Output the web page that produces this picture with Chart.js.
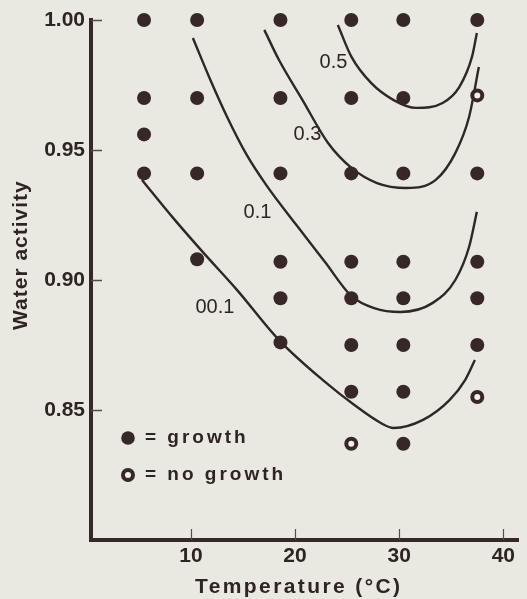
<!DOCTYPE html>
<html>
<head>
<meta charset="utf-8">
<script src="https://cdn.jsdelivr.net/npm/chart.js@4.4.0/dist/chart.umd.min.js"></script>
<style>
  html, body { margin: 0; padding: 0; background: #eae9e1; }
  #chart { display: block; }
</style>
</head>
<body>
<canvas id="chart" width="527" height="599"></canvas>
<script>
// observations: growth (filled dots)
const growthTemp = [
  5.5, 5.5, 5.5, 5.5,
  10.6, 10.6, 10.6, 10.6,
  18.6, 18.6, 18.6, 18.6, 18.6, 18.6,
  25.4, 25.4, 25.4, 25.4, 25.4, 25.4, 25.4,
  30.4, 30.4, 30.4, 30.4, 30.4, 30.4, 30.4, 30.4,
  37.5, 37.5, 37.5, 37.5, 37.5
];
const growthAw = [
  1.000, 0.970, 0.956, 0.941,
  1.000, 0.970, 0.941, 0.908,
  1.000, 0.970, 0.941, 0.907, 0.893, 0.876,
  1.000, 0.970, 0.941, 0.907, 0.893, 0.875, 0.857,
  1.000, 0.970, 0.941, 0.907, 0.893, 0.875, 0.857, 0.837,
  1.000, 0.941, 0.907, 0.893, 0.875
];
// observations: no growth (open dots)
const noGrowthTemp = [37.5, 37.5, 25.4];
const noGrowthAw = [0.971, 0.855, 0.837];

// probability contours
const curve05Temp = [24.11, 25.42, 27.30, 29.47, 31.63, 34.17, 35.77, 36.99, 37.46];
const curve05Aw = [0.9981, 0.9858, 0.9758, 0.9692, 0.9662, 0.9681, 0.9742, 0.9858, 0.9950];

const curve03Temp = [17.05, 18.46, 20.72, 23.17, 25.42, 27.87, 30.69, 33.51, 35.39, 36.71, 37.65];
const curve03Aw = [0.9962, 0.9846, 0.9692, 0.9527, 0.9431, 0.9373, 0.9354, 0.9385, 0.9488, 0.9627, 0.9819];

const curve01Temp = [10.19, 11.79, 13.48, 15.36, 17.24, 20.06, 22.88, 25.42, 27.59, 30.13, 33.23, 35.39, 36.71, 37.46];
const curve01Aw = [0.9931, 0.9777, 0.9627, 0.9481, 0.9365, 0.9215, 0.9069, 0.8938, 0.8892, 0.8877, 0.8912, 0.9000, 0.9127, 0.9262];

const curve001Temp = [5.30, 8.31, 11.13, 14.42, 18.46, 22.88, 25.70, 28.24, 29.46, 32.29, 34.83, 36.33, 37.27];
const curve001Aw = [0.9385, 0.9238, 0.9108, 0.8962, 0.8769, 0.8608, 0.8519, 0.8450, 0.8431, 0.8462, 0.8538, 0.8615, 0.8692];

const curveLabels = ['0.5', '0.3', '0.1', '00.1'];
const curveLabelTemp = [23.69, 21.19, 16.39, 12.30];
const curveLabelAw = [0.9835, 0.956, 0.926, 0.8894];

const xTicks = [10, 20, 30, 40];
const yTicks = [0.85, 0.90, 0.95, 1.00];

const ink = '#352826';
const textInk = '#2e2422';
const paper = '#f3f1e9';
const font = '"Liberation Sans", Arial, sans-serif';

const pts = (xs, ys) => xs.map((v, i) => ({ x: v, y: ys[i] }));

const curve = (xs, ys) => ({
  data: pts(xs, ys),
  showLine: true,
  pointRadius: 0,
  borderColor: '#2f2725',
  borderWidth: 2.4,
  cubicInterpolationMode: 'monotone',
  clip: false
});

// inward tick marks, curve labels, titles and legend
const annotate = {
  id: 'annotate',
  afterDraw(chart) {
    const { ctx, chartArea, scales: { x, y } } = chart;
    ctx.save();
    ctx.strokeStyle = '#5a4a46';
    ctx.lineWidth = 1.5;
    yTicks.forEach(v => {
      const py = Math.round(y.getPixelForValue(v)) + 0.5;
      ctx.beginPath();
      ctx.moveTo(chartArea.left, py);
      ctx.lineTo(chartArea.left + 11, py);
      ctx.stroke();
    });
    ctx.lineWidth = 1.2;
    xTicks.forEach(v => {
      const px = Math.round(x.getPixelForValue(v)) + 0.5;
      ctx.beginPath();
      ctx.moveTo(px, chartArea.bottom);
      ctx.lineTo(px, chartArea.bottom - 11);
      ctx.stroke();
    });

    ctx.fillStyle = textInk;
    ctx.font = '500 20px ' + font;
    ctx.textAlign = 'center';
    ctx.textBaseline = 'middle';
    curveLabels.forEach((t, i) => {
      ctx.fillText(t, x.getPixelForValue(curveLabelTemp[i]), y.getPixelForValue(curveLabelAw[i]));
    });

    ctx.textAlign = 'left';
    ctx.textBaseline = 'alphabetic';
    ctx.font = 'bold 21px ' + font;
    ctx.letterSpacing = '2.4px';
    ctx.fillText('Temperature (°C)', 195, 593);

    ctx.save();
    ctx.letterSpacing = '1px';
    ctx.translate(26.5, 330);
    ctx.rotate(-Math.PI / 2);
    ctx.fillText('Water activity', 0, 0);
    ctx.restore();

    // legend
    ctx.fillStyle = ink;
    ctx.beginPath();
    ctx.arc(128, 438, 6.8, 0, Math.PI * 2);
    ctx.fill();
    ctx.beginPath();
    ctx.arc(128, 475, 5, 0, Math.PI * 2);
    ctx.fillStyle = paper;
    ctx.fill();
    ctx.strokeStyle = ink;
    ctx.lineWidth = 4;
    ctx.stroke();

    ctx.fillStyle = textInk;
    ctx.font = 'bold 19px ' + font;
    ctx.letterSpacing = '3px';
    ctx.fillText('= growth', 145, 443);
    ctx.fillText('= no growth', 145, 480);
    ctx.restore();
  }
};

new Chart(document.getElementById('chart'), {
  type: 'scatter',
  data: {
    datasets: [
      {
        label: 'growth',
        data: pts(growthTemp, growthAw),
        pointRadius: 7,
        pointBorderWidth: 0,
        backgroundColor: ink,
        borderColor: ink,
        clip: false
      },
      {
        label: 'no growth',
        data: pts(noGrowthTemp, noGrowthAw),
        pointRadius: 5,
        pointBorderWidth: 4,
        backgroundColor: paper,
        borderColor: ink,
        clip: false
      },
      curve(curve05Temp, curve05Aw),
      curve(curve03Temp, curve03Aw),
      curve(curve01Temp, curve01Aw),
      curve(curve001Temp, curve001Aw)
    ]
  },
  options: {
    responsive: false,
    devicePixelRatio: 1,
    animation: false,
    layout: { padding: { top: 20, left: 0, right: 0, bottom: 0 } },
    plugins: {
      legend: { display: false },
      tooltip: { enabled: false }
    },
    scales: {
      x: {
        type: 'linear',
        min: 0.407,
        max: 41.41,
        afterBuildTicks: s => { s.ticks = xTicks.map(v => ({ value: v })); },
        afterFit: s => { s.height = 59; },
        grid: { display: false, drawTicks: false },
        border: { display: true, color: ink, width: 4 },
        ticks: {
          color: textInk,
          font: { family: font, size: 21, weight: 'bold' },
          padding: 4,
          maxRotation: 0,
          autoSkip: false
        }
      },
      y: {
        type: 'linear',
        min: 0.80,
        max: 1.00,
        afterBuildTicks: s => { s.ticks = yTicks.map(v => ({ value: v })); },
        afterFit: s => { s.width = 91; },
        grid: { display: false, drawTicks: false },
        border: { display: true, color: ink, width: 4 },
        ticks: {
          color: textInk,
          font: { family: font, size: 21, weight: 'bold' },
          padding: 6,
          callback: v => v.toFixed(2)
        }
      }
    }
  },
  plugins: [annotate]
});
</script>
</body>
</html>
